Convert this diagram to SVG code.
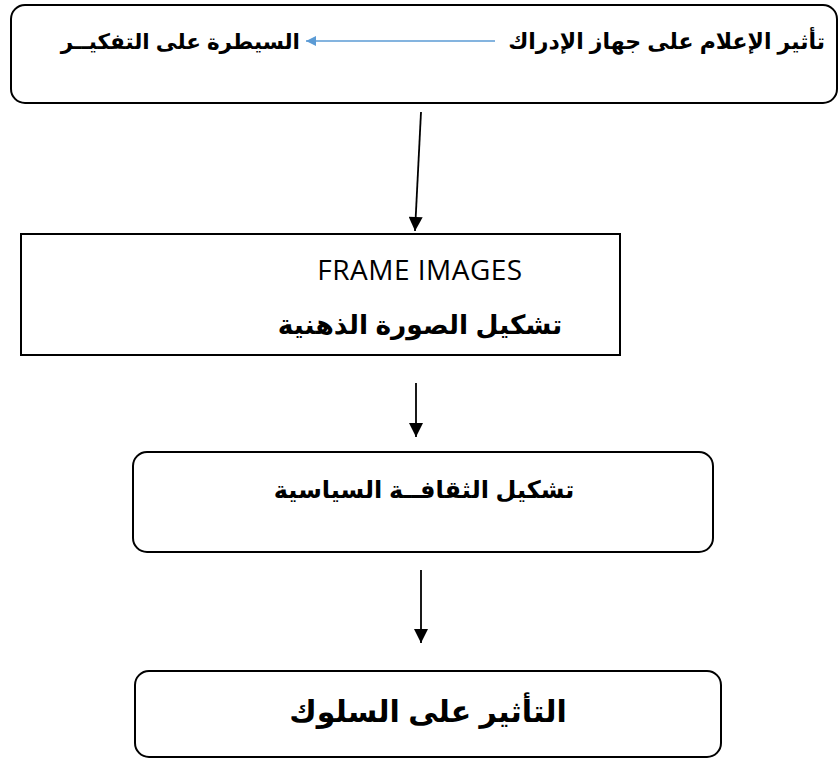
<svg xmlns="http://www.w3.org/2000/svg" width="839" height="760" viewBox="0 0 839 760">
<style>
.box{fill:#fff;stroke:#000;stroke-width:2}
.ar{font-family:"Liberation Sans","DejaVu Sans",sans-serif;font-weight:bold;fill:#000}
.en{font-family:"Open Sans","Liberation Sans",sans-serif;fill:#000}
.conn{stroke:#000;stroke-width:1.8;fill:none}
</style>
<defs>
<marker id="ah" viewBox="0 0 10 10" refX="10" refY="5" markerWidth="16" markerHeight="14" markerUnits="userSpaceOnUse" orient="auto"><path d="M0,0 L10,5 L0,10 z" fill="#000"/></marker>
<marker id="ab" viewBox="0 0 10 10" refX="10" refY="5" markerWidth="11" markerHeight="10" markerUnits="userSpaceOnUse" orient="auto"><path d="M0,0 L10,5 L0,10 z" fill="#5B9BD5"/></marker>
</defs>
<rect width="839" height="760" fill="#fff"/>
<g id="node1">
<rect class="box" x="11" y="5" width="826" height="98" rx="14"/>
<text class="ar" x="825" y="49" font-size="22" text-anchor="end">تأثير الإعلام على جهاز الإدراك</text>
<text class="ar" x="300" y="49" font-size="21.5" text-anchor="end">السيطرة على التفكيــر</text>
</g>
<g id="node2">
<rect class="box" x="21" y="234" width="599" height="121"/>
<text class="en" x="420" y="280" font-size="28" letter-spacing="0.5" text-anchor="middle">FRAME IMAGES</text>
<text class="ar" x="420" y="334" font-size="26.5" text-anchor="middle">تشكيل الصورة الذهنية</text>
</g>
<g id="node3">
<rect class="box" x="133" y="452" width="580" height="100" rx="14"/>
<text class="ar" x="424" y="498" font-size="24" text-anchor="middle">تشكيل الثقافــة السياسية</text>
</g>
<g id="node4">
<rect class="box" x="135" y="671" width="586" height="86" rx="14"/>
<text class="ar" x="428" y="722" font-size="30" text-anchor="middle">التأثير على السلوك</text>
</g>
<g id="connectors">
<line x1="495" y1="41" x2="306" y2="41" stroke="#5B9BD5" stroke-width="1.5" marker-end="url(#ab)"/>
<line class="conn" x1="421" y1="112" x2="415" y2="231" marker-end="url(#ah)"/>
<line class="conn" x1="416" y1="383" x2="416" y2="437" marker-end="url(#ah)"/>
<line class="conn" x1="421" y1="570" x2="421" y2="643" marker-end="url(#ah)"/>
</g>
</svg>
